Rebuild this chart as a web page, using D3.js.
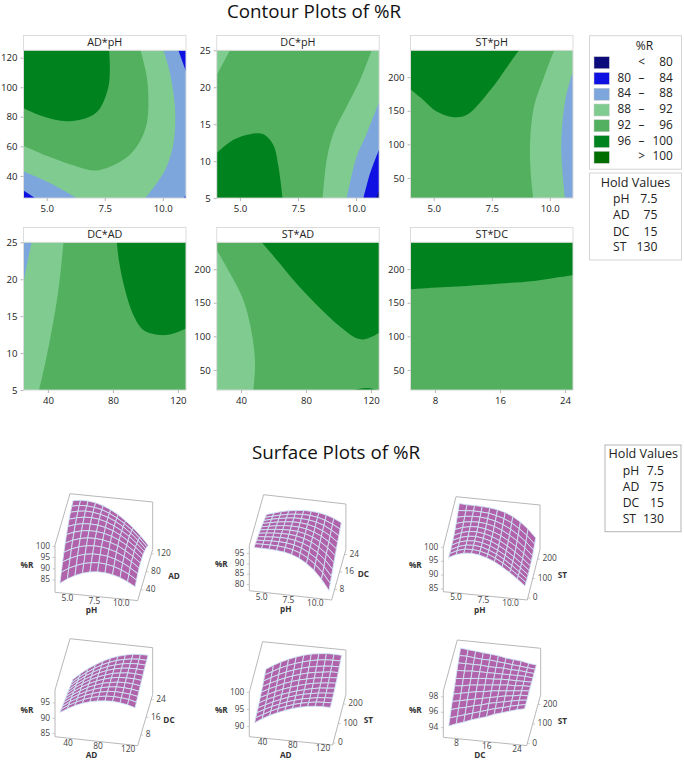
<!DOCTYPE html>
<html>
<head>
<meta charset="utf-8">
<script src="https://cdn.jsdelivr.net/npm/d3@7"></script>
<style>
    body { margin: 0; background: #fff; }
    text { font-family: "Open Sans", sans-serif; fill: #222; }
</style>
</head>
<body>
<div id="container"></div>
<script>
let width = 684
let height = 761

// legend bands
const bandNames = ["<80", "80-84", "84-88", "88-92", "92-96", "96-100", ">100"]
const bandLow = ["", "80", "84", "88", "92", "96", ""]
const bandMid = ["<", "–", "–", "–", "–", "–", ">"]
const bandHigh = ["80", "84", "88", "92", "96", "100", "100"]
const bandColors = ["#0b0b7c", "#0f10e2", "#7ca6dc", "#80cc90", "#53b05f", "#00821f", "#006d00"]

const holdNames = ["pH", "AD", "DC", "ST"]
const holdValues = ["7.5", "75", "15", "130"]

// variable ranges
const phRange = [4, 11]
const adRange = [25, 125]
const dcRange = [5, 25]
const stRange = [20, 240]

const phTicks = [5, 7.5, 10]
const adTicksX = [40, 80, 120]
const adTicksY = [40, 60, 80, 100, 120]
const dcTicksY = [5, 10, 15, 20, 25]
const dcTicksX = [8, 16, 24]
const stTicksY = [50, 100, 150, 200]

// contour regions, painted in order on top of a base band.
// edge = the contour line, close = domain corners that shut the region
const adPhRegions = [
    { band: "84-88", edge: [[10.03, 125], [10.31, 109.5], [10.53, 84.7], [10.46, 62.2], [10.17, 46.4], [9.74, 35.1], [9.24, 25]], close: [[11, 25], [11, 125]] },
    { band: "84-88", edge: [[4, 43], [5.15, 35.1], [6.3, 25]], close: [[4, 25]] },
    { band: "92-96", edge: [[9.04, 125], [9.31, 107.2], [9.38, 86.9], [9.28, 73.4], [8.88, 59.9], [8.3, 50.9], [7.16, 43.7], [6.3, 46.4], [5, 53.6], [4, 60.4]], close: [[4, 125]] },
    { band: "96-100", edge: [[7.69, 125], [7.72, 111.7], [7.66, 100.5], [7.3, 85.8], [6.87, 80.2], [5.87, 77], [4.86, 80.2], [4, 85.8]], close: [[4, 125]] },
    { band: "80-84", edge: [[10.67, 125], [11, 110.6]], close: [[11, 125]] },
    { band: "80-84", edge: [[4, 30.2], [4.5, 25]], close: [[4, 25]] },
    { band: "80-84", edge: [[10.9, 25], [11, 27]], close: [[11, 25]] }
]
const dcPhRegions = [
    { band: "88-92", edge: [[4.57, 25], [4, 21.67]], close: [[4, 25]] },
    { band: "96-100", edge: [[4, 11.08], [4.72, 12.88], [5.44, 13.65], [6.01, 13.65], [6.44, 12.2], [6.66, 9.28], [6.84, 5]], close: [[4, 5]] },
    { band: "88-92", edge: [[10.68, 25], [10.18, 21], [9.6, 17.39], [9.03, 13.78], [8.74, 10.18], [8.57, 5]], close: [[11, 5], [11, 25]] },
    { band: "84-88", edge: [[11, 18.06], [10.47, 13.78], [10.03, 10.63], [9.6, 5]], close: [[11, 5]] },
    { band: "80-84", edge: [[11, 11.62], [10.61, 8.38], [10.32, 5]], close: [[11, 5]] },
    { band: "<80", edge: [[11, 6.13], [10.87, 5]], close: [[11, 5]] }
]
const stPhRegions = [
    { band: "96-100", edge: [[8.67, 240], [8.17, 215.7], [7.44, 181], [6.43, 143.9], [5.85, 140.4], [5.13, 148.8], [4.55, 166.2], [4, 182]], close: [[4, 240]] },
    { band: "88-92", edge: [[10.19, 240], [9.76, 200.9], [9.32, 156.3], [9.15, 101.7], [9.18, 57.1], [9.29, 20]], close: [[11, 20], [11, 240]] },
    { band: "84-88", edge: [[11, 208.3], [10.7, 171.1], [10.51, 116.6], [10.51, 77], [10.65, 20]], close: [[11, 20]] }
]
const dcAdRegions = [
    { band: "88-92", edge: [[49.6, 25], [46.5, 18.54], [42.4, 13.13], [38.3, 8.61], [34.6, 5]], close: [[25, 5], [25, 25]] },
    { band: "84-88", edge: [[30.1, 25], [28.1, 23.06], [25, 19.45]], close: [[25, 25]] },
    { band: "96-100", edge: [[82.4, 25], [84, 22.16], [87.5, 18.54], [92.6, 15.16], [98.8, 13.13], [109, 12.45], [117.2, 12.67], [125, 13.35]], close: [[125, 25]] }
]
const stAdRegions = [
    { band: "88-92", edge: [[25, 228.6], [33.2, 193.8], [41.4, 154.1], [46.6, 104.4], [48.6, 59.8], [47.6, 20]], close: [[25, 20]] },
    { band: "96-100", edge: [[52.7, 240], [62, 213.7], [72.2, 183.9], [86.6, 146.7], [101, 114.4], [111.2, 97], [115.3, 95.5], [120.5, 99.5], [125, 105.4]], close: [[125, 240]] },
    { band: "96-100", edge: [[109.2, 20], [117.4, 23], [123.6, 20]], close: [] }
]
const stDcRegions = [
    { band: "96-100", edge: [[5, 170], [8.25, 172.6], [11.95, 175], [16.07, 178.6], [20.2, 182.5], [22.65, 187], [25, 191]], close: [[25, 240], [5, 240]] }
]

// surface knots
const phKnots = [4, 4.7, 5.4, 6.1, 6.8, 7.5, 8.2, 8.9, 9.6, 10.3, 11]
const adKnots = [25, 35, 45, 55, 65, 75, 85, 95, 105, 115, 125]
const dcKnots = [5, 7, 9, 11, 13, 15, 17, 19, 21, 23, 25]
const stKnots = [20, 42, 64, 86, 108, 130, 152, 174, 196, 218, 240]

const surfAdPh = [
    [81.9, 84.2, 86.0, 87.4, 88.3, 88.7, 88.6, 88.1, 87.1, 85.6, 83.7],
    [84.8, 86.9, 88.5, 89.7, 90.4, 90.7, 90.4, 89.7, 88.5, 86.9, 84.7],
    [87.4, 89.3, 90.8, 91.8, 92.3, 92.3, 91.9, 91.0, 89.6, 87.8, 85.5],
    [89.7, 91.5, 92.8, 93.6, 93.9, 93.8, 93.1, 92.1, 90.5, 88.5, 86.0],
    [91.8, 93.4, 94.5, 95.1, 95.2, 94.9, 94.1, 92.9, 91.1, 88.9, 86.2],
    [93.6, 95.0, 95.9, 96.3, 96.3, 95.8, 94.8, 93.4, 91.5, 89.1, 86.2],
    [95.2, 96.4, 97.1, 97.3, 97.1, 96.4, 95.3, 93.6, 91.5, 89.0, 85.9],
    [96.4, 97.4, 98.0, 98.1, 97.7, 96.8, 95.4, 93.6, 91.4, 88.6, 85.4],
    [97.5, 98.3, 98.7, 98.5, 97.9, 96.9, 95.4, 93.4, 90.9, 87.9, 84.5],
    [98.2, 98.9, 99.0, 98.7, 98.0, 96.7, 95.0, 92.8, 90.2, 87.1, 83.5],
    [98.7, 99.2, 99.2, 98.7, 97.7, 96.3, 94.4, 92.0, 89.2, 85.9, 82.1]
]
const surfDcPh = [
    [96.3, 96.3, 96.3, 96.1, 95.7, 94.9, 93.5, 91.4, 88.5, 84.5, 79.5],
    [96.0, 96.1, 96.2, 96.1, 95.8, 95.1, 93.9, 91.9, 89.2, 85.6, 80.8],
    [95.6, 95.8, 96.0, 96.1, 95.9, 95.3, 94.2, 92.4, 89.9, 86.5, 82.1],
    [95.2, 95.5, 95.8, 96.0, 95.9, 95.4, 94.4, 92.9, 90.6, 87.5, 83.4],
    [94.7, 95.2, 95.6, 95.8, 95.8, 95.5, 94.6, 93.3, 91.2, 88.4, 84.6],
    [94.2, 94.8, 95.3, 95.6, 95.7, 95.5, 94.8, 93.6, 91.8, 89.2, 85.8],
    [93.6, 94.3, 94.9, 95.4, 95.6, 95.5, 95.0, 93.9, 92.3, 90.0, 87.0],
    [93.1, 93.9, 94.6, 95.1, 95.5, 95.5, 95.1, 94.2, 92.8, 90.8, 88.1],
    [92.4, 93.4, 94.2, 94.8, 95.3, 95.4, 95.1, 94.5, 93.3, 91.5, 89.1],
    [91.8, 92.8, 93.7, 94.5, 95.0, 95.3, 95.2, 94.7, 93.7, 92.2, 90.2],
    [91.1, 92.2, 93.3, 94.1, 94.7, 95.1, 95.1, 94.8, 94.1, 92.9, 91.2]
]
const surfStPh = [
    [94.4, 95.7, 96.5, 96.7, 96.4, 95.6, 94.5, 92.9, 91.1, 89.1, 86.8],
    [94.2, 95.6, 96.4, 96.5, 96.2, 95.4, 94.2, 92.7, 90.8, 88.7, 86.5],
    [94.1, 95.5, 96.3, 96.5, 96.2, 95.3, 94.1, 92.5, 90.6, 88.5, 86.3],
    [94.2, 95.6, 96.3, 96.5, 96.1, 95.3, 94.0, 92.4, 90.6, 88.4, 86.2],
    [94.4, 95.7, 96.4, 96.6, 96.2, 95.4, 94.1, 92.5, 90.6, 88.5, 86.2],
    [94.7, 95.9, 96.6, 96.7, 96.3, 95.5, 94.3, 92.7, 90.8, 88.7, 86.3],
    [95.2, 96.2, 96.8, 96.9, 96.5, 95.7, 94.6, 93.0, 91.2, 89.0, 86.5],
    [95.8, 96.6, 97.0, 97.1, 96.8, 96.1, 95.0, 93.5, 91.7, 89.5, 86.9],
    [96.5, 97.1, 97.4, 97.4, 97.1, 96.5, 95.5, 94.1, 92.3, 90.1, 87.4],
    [97.4, 97.6, 97.8, 97.7, 97.5, 96.9, 96.1, 94.8, 93.0, 90.8, 88.0],
    [98.4, 98.2, 98.2, 98.1, 97.9, 97.5, 96.8, 95.6, 93.9, 91.6, 88.7]
]
const surfDcAd = [
    [90.7, 92.2, 93.5, 94.5, 95.3, 95.8, 96.1, 96.2, 96.0, 95.6, 94.9],
    [90.3, 91.9, 93.2, 94.3, 95.2, 95.8, 96.2, 96.3, 96.2, 95.9, 95.3],
    [89.9, 91.6, 93.0, 94.2, 95.1, 95.8, 96.3, 96.5, 96.4, 96.2, 95.7],
    [89.6, 91.3, 92.8, 94.0, 95.0, 95.8, 96.3, 96.6, 96.6, 96.4, 96.0],
    [89.2, 91.0, 92.5, 93.9, 94.9, 95.8, 96.3, 96.7, 96.8, 96.7, 96.3],
    [88.8, 90.7, 92.3, 93.7, 94.8, 95.7, 96.4, 96.8, 96.9, 96.9, 96.6],
    [88.5, 90.4, 92.1, 93.5, 94.7, 95.6, 96.4, 96.8, 97.1, 97.1, 96.8],
    [88.1, 90.1, 91.8, 93.3, 94.6, 95.6, 96.4, 96.9, 97.2, 97.2, 97.1],
    [87.8, 89.8, 91.6, 93.1, 94.4, 95.5, 96.3, 96.9, 97.3, 97.4, 97.3],
    [87.4, 89.5, 91.3, 92.9, 94.3, 95.4, 96.3, 96.9, 97.3, 97.5, 97.4],
    [87.1, 89.2, 91.1, 92.7, 94.1, 95.3, 96.2, 96.9, 97.4, 97.6, 97.6]
]
const surfStAd = [
    [89.5, 90.9, 92.1, 93.1, 94.0, 94.8, 95.4, 95.8, 96.1, 96.2, 96.2],
    [89.7, 90.9, 92.1, 93.1, 93.9, 94.7, 95.3, 95.7, 96.1, 96.2, 96.3],
    [89.9, 91.1, 92.2, 93.1, 94.0, 94.7, 95.3, 95.7, 96.1, 96.3, 96.4],
    [90.1, 91.2, 92.3, 93.2, 94.1, 94.8, 95.4, 95.8, 96.2, 96.4, 96.6],
    [90.3, 91.5, 92.5, 93.4, 94.2, 94.9, 95.5, 96.0, 96.4, 96.6, 96.8],
    [90.6, 91.7, 92.8, 93.7, 94.5, 95.2, 95.8, 96.3, 96.6, 96.9, 97.0],
    [90.9, 92.1, 93.1, 94.1, 94.9, 95.6, 96.1, 96.6, 96.9, 97.2, 97.3],
    [91.3, 92.5, 93.5, 94.5, 95.3, 96.0, 96.6, 97.0, 97.3, 97.6, 97.6],
    [91.7, 92.9, 94.0, 95.0, 95.8, 96.5, 97.1, 97.5, 97.8, 98.0, 98.0],
    [92.2, 93.4, 94.6, 95.6, 96.4, 97.1, 97.7, 98.1, 98.4, 98.5, 98.5],
    [92.6, 94.0, 95.2, 96.2, 97.1, 97.8, 98.4, 98.7, 99.0, 99.0, 98.9]
]
const surfStDc = [
    [93.5, 93.9, 94.2, 94.6, 94.9, 95.2, 95.6, 95.9, 96.2, 96.5, 96.7],
    [94.0, 94.3, 94.6, 94.9, 95.2, 95.5, 95.8, 96.0, 96.3, 96.5, 96.7],
    [94.5, 94.8, 95.0, 95.3, 95.5, 95.8, 96.0, 96.2, 96.4, 96.6, 96.7],
    [95.0, 95.2, 95.4, 95.6, 95.8, 96.0, 96.2, 96.4, 96.5, 96.7, 96.7],
    [95.4, 95.6, 95.8, 96.0, 96.1, 96.3, 96.4, 96.5, 96.6, 96.7, 96.8],
    [95.9, 96.0, 96.2, 96.3, 96.4, 96.5, 96.6, 96.7, 96.7, 96.8, 96.8],
    [96.3, 96.4, 96.5, 96.6, 96.7, 96.7, 96.8, 96.8, 96.8, 96.8, 96.8],
    [96.8, 96.8, 96.9, 96.9, 96.9, 96.9, 96.9, 96.9, 96.9, 96.9, 96.8],
    [97.2, 97.2, 97.2, 97.2, 97.1, 97.1, 97.1, 97.0, 97.0, 96.9, 96.8],
    [97.6, 97.6, 97.5, 97.4, 97.4, 97.3, 97.2, 97.1, 97.0, 96.9, 96.8],
    [98.0, 97.9, 97.8, 97.7, 97.6, 97.5, 97.3, 97.2, 97.1, 96.9, 96.8]
]

const color = d3.scaleOrdinal(bandNames, bandColors)

let svg = d3.select("#container")
    .append("svg")
    .attr("width", width)
    .attr("height", height)
    .attr("viewBox", [0, 0, width, height])

svg.append("text").attr("x", 314).attr("y", 13).attr("text-anchor", "middle")
    .attr("font-size", 18.8).attr("dominant-baseline", "middle").style("fill", "#111")
    .text("Contour Plots of %R")
svg.append("text").attr("x", 336).attr("y", 454).attr("text-anchor", "middle")
    .attr("font-size", 18.8).attr("dominant-baseline", "middle").style("fill", "#111")
    .text("Surface Plots of %R")

// ---- contour panels ----
const colLeft = [23.5, 216.7, 410.5]
const rowTop = [35.5, 227.5]
const panelW = 162.5
const headerH = 14.8
const plotH = 147.8

const contourPanels = [
    { title: "AD*pH", col: 0, row: 0, xd: phRange, yd: adRange, xt: phTicks, yt: adTicksY, xf: d3.format(".1f"), regions: adPhRegions, base: "88-92" },
    { title: "DC*pH", col: 1, row: 0, xd: phRange, yd: dcRange, xt: phTicks, yt: dcTicksY, xf: d3.format(".1f"), regions: dcPhRegions, base: "92-96" },
    { title: "ST*pH", col: 2, row: 0, xd: phRange, yd: stRange, xt: phTicks, yt: stTicksY, xf: d3.format(".1f"), regions: stPhRegions, base: "92-96" },
    { title: "DC*AD", col: 0, row: 1, xd: adRange, yd: dcRange, xt: adTicksX, yt: dcTicksY, xf: d3.format("d"), regions: dcAdRegions, base: "92-96" },
    { title: "ST*AD", col: 1, row: 1, xd: adRange, yd: stRange, xt: adTicksX, yt: stTicksY, xf: d3.format("d"), regions: stAdRegions, base: "92-96" },
    { title: "ST*DC", col: 2, row: 1, xd: dcRange, yd: stRange, xt: dcTicksX, yt: stTicksY, xf: d3.format("d"), regions: stDcRegions, base: "92-96" }
]

contourPanels.forEach((p, i) => {
    let left = colLeft[p.col]
    let top = rowTop[p.row]
    let plotTop = top + headerH

    let x = d3.scaleLinear().domain(p.xd).range([left, left + panelW])
    let y = d3.scaleLinear().domain(p.yd).range([plotTop + plotH, plotTop])

    let g = svg.append("g")

    g.append("clipPath").attr("id", "clip" + i)
        .append("rect")
        .attr("x", left).attr("y", plotTop).attr("width", panelW).attr("height", plotH)

    let body = g.append("g").attr("clip-path", `url(#clip${i})`)
    body.append("rect")
        .attr("x", left).attr("y", plotTop).attr("width", panelW).attr("height", plotH)
        .attr("fill", color(p.base))

    let edgeLine = d3.line().x(d => x(d[0])).y(d => y(d[1])).curve(d3.curveCatmullRom.alpha(0.5))
    let closeLine = d3.line().x(d => x(d[0])).y(d => y(d[1]))

    body.selectAll("path")
        .data(p.regions)
        .join("path")
        .attr("fill", d => color(d.band))
        .attr("d", d => {
            let tail = d.close.length ? "L" + closeLine(d.close).slice(1) : ""
            return edgeLine(d.edge) + tail + "Z"
        })

    // frame and header
    g.append("rect")
        .attr("x", left).attr("y", top).attr("width", panelW).attr("height", headerH + plotH)
        .attr("fill", "none").attr("stroke", "#dcdcdc").attr("stroke-width", 1)
    g.append("line")
        .attr("x1", left).attr("x2", left + panelW).attr("y1", plotTop).attr("y2", plotTop)
        .attr("stroke", "#dcdcdc")
    g.append("text")
        .attr("x", left + panelW / 2).attr("y", top + headerH / 2 + 0.5)
        .attr("text-anchor", "middle").attr("dominant-baseline", "middle")
        .attr("font-size", 10.8)
        .text(p.title)

    let xAxis = g2 => g2
        .attr("transform", `translate(0,${plotTop + plotH})`)
        .call(d3.axisBottom(x).tickValues(p.xt).tickFormat(p.xf).tickSize(3).tickPadding(4))
        .call(g2 => g2.select(".domain").remove())
    let yAxis = g2 => g2
        .attr("transform", `translate(${left},0)`)
        .call(d3.axisLeft(y).tickValues(p.yt).tickSize(3).tickPadding(3))
        .call(g2 => g2.select(".domain").remove())

    ;[xAxis, yAxis].forEach(ax => {
        g.append("g").call(ax)
            .call(g2 => g2.selectAll(".tick line").attr("stroke", "#b5b5b5"))
            .call(g2 => g2.selectAll(".tick text")
                .attr("font-size", 9.6)
                .style("font-family", '"Open Sans", sans-serif')
                .style("fill", "#222"))
    })
})

// ---- legend ----
const legendBox = svg.append("g")
legendBox.append("rect").attr("x", 589.5).attr("y", 35.7).attr("width", 92).attr("height", 133.5)
    .attr("fill", "none").attr("stroke", "#d5d5d5")
legendBox.append("text").attr("x", 644.5).attr("y", 47).attr("text-anchor", "middle")
    .attr("dominant-baseline", "middle").attr("font-size", 12).text("%R")

let legendY = d3.scalePoint().domain(bandNames).range([62.7, 157.3])
let rows = legendBox.selectAll(".row").data(bandNames).join("g").attr("class", "row")
    .attr("transform", d => `translate(0,${legendY(d)})`)
rows.append("rect").attr("x", 594).attr("y", -6).attr("width", 15.3).attr("height", 12)
    .attr("fill", d => color(d)).attr("stroke", "#c9c9c9").attr("stroke-width", 0.5)
rows.append("text").attr("x", 631).attr("text-anchor", "end").attr("dominant-baseline", "middle")
    .attr("font-size", 11.8).text((d, i) => bandLow[i])
rows.append("text").attr("x", 641.5).attr("text-anchor", "middle").attr("dominant-baseline", "middle")
    .attr("font-size", 11.8).text((d, i) => bandMid[i])
rows.append("text").attr("x", 672.8).attr("text-anchor", "end").attr("dominant-baseline", "middle")
    .attr("font-size", 11.8).text((d, i) => bandHigh[i])

// hold value boxes
let holdBox = (x0, y0, w, h, cx, titleY, rowYs, nameX, valueX, stroke) => {
    let g = svg.append("g")
    g.append("rect").attr("x", x0).attr("y", y0).attr("width", w).attr("height", h)
        .attr("fill", "none").attr("stroke", stroke)
    g.append("text").attr("x", cx).attr("y", titleY).attr("text-anchor", "middle")
        .attr("dominant-baseline", "middle").attr("font-size", 12.6).text("Hold Values")
    holdNames.forEach((n, i) => {
        g.append("text").attr("x", nameX).attr("y", rowYs[i]).attr("dominant-baseline", "middle")
            .attr("font-size", 12.2).text(n)
        g.append("text").attr("x", valueX).attr("y", rowYs[i]).attr("text-anchor", "end")
            .attr("dominant-baseline", "middle").attr("font-size", 12.2).text(holdValues[i])
    })
}
holdBox(589.5, 173, 92, 87, 635.5, 184, [200, 216, 232.5, 247.5], 613, 657.5, "#d5d5d5")
holdBox(605, 445, 76, 86.7, 643.3, 455, [471.7, 487.7, 504, 519.5], 622.7, 664, "#b5b5b5")

// ---- surface panels ----
// plotted box of each axis runs a little past the data
const phBox = [3.65, 11.35]
const adBoxX = [20, 130]
const dcBoxX = [4, 26]
const adBoxY = [16, 130]
const dcBoxY = [3.2, 26.4]
const stBoxY = [-10, 250]

const surfacePanels = [
    { ox: 55, oy: 592.3, ex: [82.7, 8.3], ey: [15, -51.3], ez: 47.3, xk: phKnots, yk: adKnots, grid: surfAdPh, xb: phBox, yb: adBoxY, zb: [79.5, 100.6], xt: phTicks, yt: adTicksX, zt: [85, 90, 95, 100], xf: d3.format(".1f"), xn: "pH", yn: "AD" },
    { ox: 249.3, oy: 590.7, ex: [82.3, 9.3], ey: [14.3, -50.7], ez: 45.3, xk: phKnots, yk: dcKnots, grid: surfDcPh, xb: phBox, yb: dcBoxY, zb: [77, 99], xt: phTicks, yt: dcTicksX, zt: [80, 85, 90, 95], xf: d3.format(".1f"), xn: "pH", yn: "DC" },
    { ox: 443.3, oy: 591.7, ex: [84, 8.3], ey: [12.7, -50.7], ez: 44.3, xk: phKnots, yk: stKnots, grid: surfStPh, xb: phBox, yb: stBoxY, zb: [84, 100], xt: phTicks, yt: [0, 100, 200], zt: [85, 90, 95, 100], xf: d3.format(".1f"), xn: "pH", yn: "ST" },
    { ox: 55, oy: 736.7, ex: [82.7, 9], ey: [15, -51.3], ez: 46.7, xk: adKnots, yk: dcKnots, grid: surfDcAd, xb: adBoxX, yb: dcBoxY, zb: [84, 99.2], xt: adTicksX, yt: dcTicksX, zt: [85, 90, 95], xf: d3.format("d"), xn: "AD", yn: "DC" },
    { ox: 249.3, oy: 736.7, ex: [83.3, 8.3], ey: [13.3, -50.7], ez: 44.3, xk: adKnots, yk: stKnots, grid: surfStAd, xb: adBoxX, yb: stBoxY, zb: [87, 100], xt: adTicksX, yt: [0, 100, 200], zt: [90, 95, 100], xf: d3.format("d"), xn: "AD", yn: "ST" },
    { ox: 443.3, oy: 737.3, ex: [83.4, 8.3], ey: [14, -51], ez: 46.3, xk: dcKnots, yk: stKnots, grid: surfStDc, xb: dcBoxX, yb: stBoxY, zb: [92.75, 98.75], xt: dcTicksX, yt: [0, 100, 200], zt: [94, 96, 98], xf: d3.format("d"), xn: "DC", yn: "ST" }
]

surfacePanels.forEach(p => {
    let u = d3.scaleLinear().domain(p.xb).range([0, 1])
    let v = d3.scaleLinear().domain(p.yb).range([0, 1])
    let w = d3.scaleLinear().domain(p.zb).range([0, 1])

    let project = (a, b, c) => [
        p.ox + u(a) * p.ex[0] + v(b) * p.ey[0],
        p.oy + u(a) * p.ex[1] + v(b) * p.ey[1] - w(c) * p.ez
    ]

    let g = svg.append("g")
    let [x0, x1] = p.xb
    let [y0, y1] = p.yb
    let [z0, z1] = p.zb

    // back walls and floor outline of the cube
    g.append("path")
        .attr("d", d3.line()([
            project(x0, y0, z1), project(x0, y1, z1), project(x1, y1, z1),
            project(x1, y1, z0), project(x1, y0, z0), project(x0, y0, z0), project(x0, y0, z1)
        ]))
        .attr("fill", "none").attr("stroke", "#b8b8b8").attr("stroke-width", 1)

    // mesh cells, back to front
    let cells = []
    for (let j = p.yk.length - 2; j >= 0; j--) {
        for (let i = 0; i < p.xk.length - 1; i++) {
            cells.push([
                project(p.xk[i], p.yk[j], p.grid[j][i]),
                project(p.xk[i + 1], p.yk[j], p.grid[j][i + 1]),
                project(p.xk[i + 1], p.yk[j + 1], p.grid[j + 1][i + 1]),
                project(p.xk[i], p.yk[j + 1], p.grid[j + 1][i])
            ])
        }
    }
    g.append("g").selectAll("path").data(cells).join("path")
        .attr("d", d => d3.line()(d) + "Z")
        .attr("fill", "#b063ab")
        .attr("stroke", "#cfe9f4")
        .attr("stroke-width", 0.85)

    // ticks on the cube edges
    let tickColor = "#b8b8b8"
    p.xt.forEach(t => {
        let [sx, sy] = project(t, y0, z0)
        g.append("line").attr("x1", sx).attr("y1", sy).attr("x2", sx - 0.5).attr("y2", sy + 2.5).attr("stroke", tickColor).attr("stroke-width", 0.7)
        g.append("text").attr("x", sx - 2).attr("y", sy + 5).attr("text-anchor", "middle")
            .attr("dominant-baseline", "middle").attr("font-size", 8.4).style("fill", "#444").text(p.xf(t))
    })
    p.yt.forEach(t => {
        let [sx, sy] = project(x1, t, z0)
        g.append("line").attr("x1", sx).attr("y1", sy).attr("x2", sx + 2.5).attr("y2", sy).attr("stroke", tickColor).attr("stroke-width", 0.7)
        g.append("text").attr("x", sx + 5).attr("y", sy).attr("text-anchor", "start")
            .attr("dominant-baseline", "middle").attr("font-size", 8.4).style("fill", "#444").text(t)
    })
    p.zt.forEach(t => {
        let [sx, sy] = project(x0, y0, t)
        g.append("line").attr("x1", sx).attr("y1", sy).attr("x2", sx - 2.5).attr("y2", sy).attr("stroke", tickColor).attr("stroke-width", 0.7)
        g.append("text").attr("x", sx - 5).attr("y", sy).attr("text-anchor", "end")
            .attr("dominant-baseline", "middle").attr("font-size", 8.4).style("fill", "#444").text(t)
    })

    // axis titles sit at fixed offsets from the cube corner
    let axisTitle = (dx, dy, s) => g.append("text")
        .attr("x", p.ox + dx).attr("y", p.oy + dy)
        .attr("text-anchor", "middle").attr("dominant-baseline", "middle")
        .attr("font-size", 8.2).attr("font-weight", "bold").style("fill", "#333").text(s)
    axisTitle(-28, -26, "%R")
    axisTitle(36.5, 18.8, p.xn)
    axisTitle(p.yn === "DC" ? 114 : 119, -15.5, p.yn)
})
</script>
</body>
</html>
